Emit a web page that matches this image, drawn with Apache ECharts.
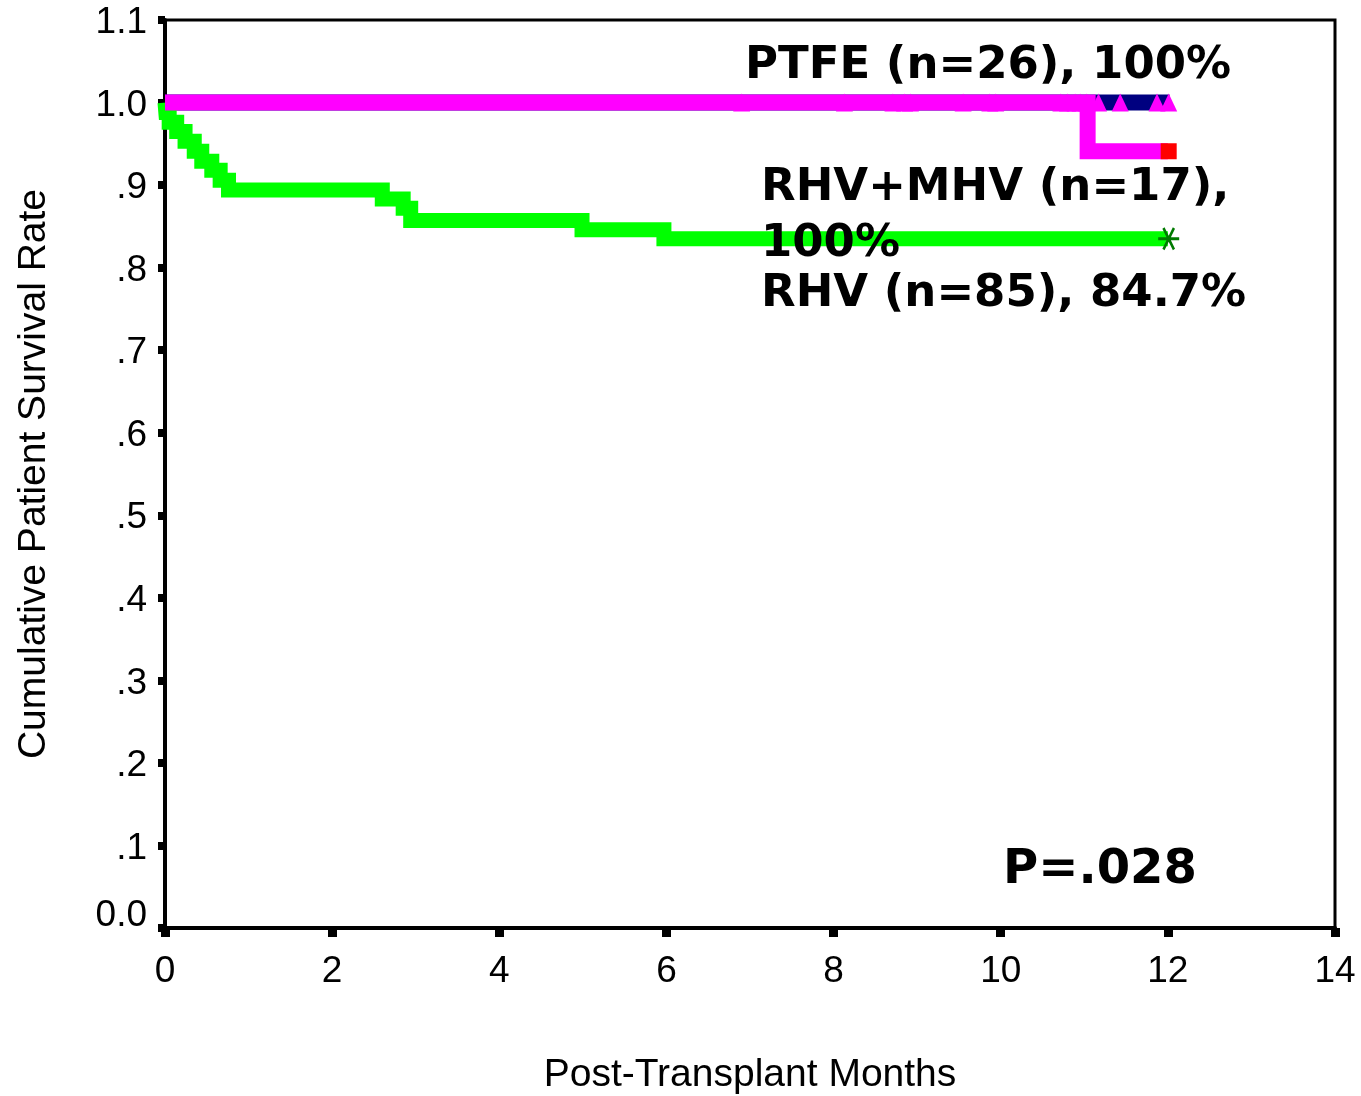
<!DOCTYPE html>
<html>
<head>
<meta charset="utf-8">
<title>Cumulative Patient Survival</title>
<script src="https://cdn.jsdelivr.net/npm/echarts@6/dist/echarts.min.js"></script>
<style>
  html, body { margin: 0; padding: 0; background: #fff; }
  #chart { width: 1361px; height: 1096px; }
</style>
</head>
<body>
<div id="chart"></div>
<script>
// Axis tick labels
const xTickLabels = ['0', '2', '4', '6', '8', '10', '12', '14'];
const yTickLabels = ['0.0', '.1', '.2', '.3', '.4', '.5', '.6', '.7', '.8', '.9', '1.0', '1.1'];

// Kaplan-Meier estimates: time (months) at which the survival level starts
const rhvTimes    = [0, 0.01, 0.05, 0.14, 0.24, 0.35, 0.44, 0.56, 0.66, 0.76, 2.60, 2.85, 2.94, 4.99, 5.97, 12.0];
const rhvSurvival = [1.0, 0.988, 0.976, 0.965, 0.953, 0.941, 0.929, 0.918, 0.906, 0.894, 0.883, 0.872, 0.857, 0.846, 0.835, 0.835];

const rhvMhvTimes    = [0, 11.04, 12.0];
const rhvMhvSurvival = [1.0, 0.941, 0.941];

const ptfeTimes    = [0, 12.02];
const ptfeSurvival = [1.0, 1.0];

// Censored observations (months)
const ptfeCensored   = [6.90, 8.13, 8.71, 8.85, 8.92, 9.55, 9.87, 9.94, 10.72, 10.80, 10.89, 10.95, 11.03, 11.17, 11.43, 11.87, 12.01];
const rhvMhvCensored = [12.01];
const rhvCensored    = [12.01];

// Group annotations
const groupNotes = [
  { text: 'PTFE (n=26), 100%',  x: 745,  y: 66 },
  { text: 'RHV+MHV (n=17),',    x: 761,  y: 188 },
  { text: '100%',               x: 761,  y: 244 },
  { text: 'RHV (n=85), 84.7%',  x: 761,  y: 294 }
];
const pValueText = 'P=.028';

function zip(ts, vs) { return ts.map((t, i) => [t, vs[i]]); }
function survivalAt(ts, vs, t) {
  let v = vs[0];
  for (let i = 0; i < ts.length; i++) { if (ts[i] <= t) v = vs[i]; }
  return v;
}
function censorPoints(ts, vs, cs) { return cs.map(t => [t, survivalAt(ts, vs, t)]); }

// Six-armed asterisk used for censored RHV cases
const asterisk = 'path://M0,44 L100,44 L100,56 L0,56 Z ' +
  'M30.2,3.7 L80.2,90.3 L69.8,96.3 L19.8,9.7 Z ' +
  'M19.8,90.3 L69.8,3.7 L80.2,9.7 L30.2,96.3 Z';

const labelFont = 'Liberation Sans, Arial, sans-serif';
const boldFont = 'DejaVu Sans, Verdana, sans-serif';

const chart = echarts.init(document.getElementById('chart'), null, { renderer: 'canvas' });

chart.setOption({
  animation: false,
  backgroundColor: '#ffffff',
  grid: {
    left: 165, top: 20, width: 1170, height: 908,
    outerBoundsMode: 'none', containLabel: false,
    show: true, borderColor: '#000', borderWidth: 3, backgroundColor: 'transparent'
  },
  xAxis: {
    type: 'value', min: 0, max: 14, interval: 2,
    name: 'Post-Transplant Months', nameLocation: 'middle', nameGap: 128,
    nameTextStyle: { fontFamily: labelFont, fontSize: 39, color: '#000' },
    axisLine: { show: true, onZero: false, lineStyle: { color: '#000', width: 4 } },
    axisTick: { show: true, length: 9, lineStyle: { color: '#000', width: 9 } },
    axisLabel: {
      margin: 25, fontFamily: labelFont, fontSize: 37, color: '#000',
      formatter: v => xTickLabels[Math.round(v / 2)]
    },
    splitLine: { show: false }
  },
  yAxis: {
    type: 'value', min: 0, max: 1.1, interval: 0.1,
    name: 'Cumulative Patient Survival Rate', nameLocation: 'middle', nameGap: 111,
    nameTextStyle: { fontFamily: labelFont, fontSize: 39, color: '#000' },
    axisLine: { show: true, onZero: false, lineStyle: { color: '#000', width: 4 } },
    axisTick: { show: true, length: 7, lineStyle: { color: '#000', width: 8 } },
    axisLabel: {
      margin: 18, fontFamily: labelFont, fontSize: 37, color: '#000',
      formatter: v => {
        const i = Math.round(v * 10);
        return (i === 0 ? '{low|' : '{n|') + yTickLabels[i] + '}';
      },
      rich: {
        n:   { fontFamily: labelFont, fontSize: 37, color: '#000', padding: [6, 0, 0, 0] },
        low: { fontFamily: labelFont, fontSize: 37, color: '#000', padding: [0, 0, 24, 0] }
      }
    },
    splitLine: { show: false }
  },
  series: [
    {
      name: 'PTFE', type: 'line', step: 'end', clip: false, z: 2,
      data: zip(ptfeTimes, ptfeSurvival), symbol: 'none',
      lineStyle: { color: '#000080', width: 16, join: 'miter', cap: 'butt' }
    },
    {
      name: 'PTFE censored', type: 'scatter', clip: false, z: 3,
      data: censorPoints(ptfeTimes, ptfeSurvival, ptfeCensored),
      symbol: 'triangle', symbolSize: [17, 18],
      itemStyle: { color: '#ff00ff', opacity: 1 }
    },
    {
      name: 'RHV', type: 'line', step: 'end', clip: false, z: 2,
      data: zip(rhvTimes, rhvSurvival), symbol: 'none',
      lineStyle: { color: '#00ff00', width: 15, join: 'miter', cap: 'butt' }
    },
    {
      name: 'RHV+MHV', type: 'line', step: 'end', clip: false, z: 4,
      data: zip(rhvMhvTimes, rhvMhvSurvival), symbol: 'none',
      lineStyle: { color: '#ff00ff', width: 16, join: 'miter', cap: 'butt' }
    },
    {
      name: 'RHV+MHV censored', type: 'scatter', clip: false, z: 5,
      data: censorPoints(rhvMhvTimes, rhvMhvSurvival, rhvMhvCensored),
      symbol: 'rect', symbolSize: 16,
      itemStyle: { color: '#ff0000', opacity: 1 }
    },
    {
      name: 'RHV censored', type: 'scatter', clip: false, z: 5,
      data: censorPoints(rhvTimes, rhvSurvival, rhvCensored),
      symbol: asterisk, symbolSize: [21, 23],
      itemStyle: { color: '#007a00', opacity: 1 }
    }
  ],
  graphic: groupNotes.map(n => ({
    type: 'text', x: n.x, y: n.y, z: 10,
    style: {
      text: n.text, fill: '#000', font: 'bold 45px ' + boldFont,
      textAlign: 'left', textVerticalAlign: 'middle'
    }
  })).concat([{
    type: 'text', x: 1003, y: 871, z: 10,
    style: {
      text: pValueText, fill: '#000', font: 'bold 48px ' + boldFont,
      textAlign: 'left', textVerticalAlign: 'middle'
    }
  }])
});
</script>
</body>
</html>
